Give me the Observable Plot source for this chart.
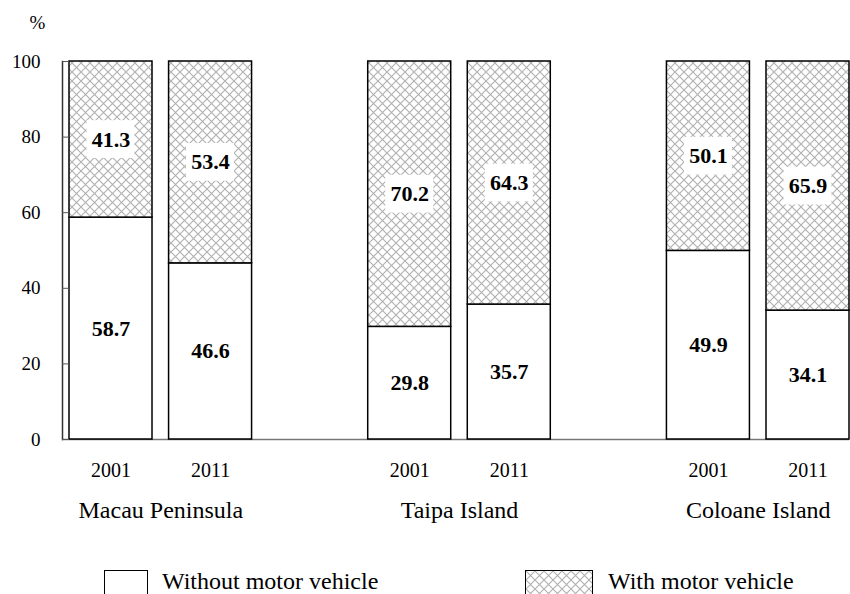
<!DOCTYPE html>
<html>
<head>
<meta charset="utf-8">
<script src="https://cdn.jsdelivr.net/npm/d3@7"></script>
<script src="https://cdn.jsdelivr.net/npm/@observablehq/plot@0.6"></script>
<style>
  html, body { margin: 0; padding: 0; background: #fff; overflow: hidden; }
  #wrap { position: relative; width: 850px; height: 594px; font-family: "Liberation Serif", "Times New Roman", serif; }
  #legend { position: absolute; left: 0; top: 570px; width: 850px; height: 30px; font-size: 24px; color: #000; }
  .sw { position: absolute; top: 0; height: 26px; box-sizing: border-box; border: 1.5px solid #000; background: #fff; }
  .lab { position: absolute; top: 0; line-height: 22px; white-space: nowrap; }
</style>
</head>
<body>
<div id="wrap">
  <div id="chart"></div>
  <div id="legend">
    <div class="sw" style="left:104px;width:44px;"></div>
    <div class="lab" style="left:162px;">Without motor vehicle</div>
    <svg class="sw" style="left:525px;width:68px;padding:0;" width="68" height="26"><rect x="0" y="0" width="68" height="26" fill="url(#hatch)"/></svg>
    <div class="lab" style="left:608px;">With motor vehicle</div>
  </div>
</div>
<script>
const regions = ["Macau Peninsula", "Taipa Island", "Coloane Island"];
const years = ["2001", "2011"];
// per region, per year (2001, 2011)
const withoutVehicle = [58.7, 46.6, 29.8, 35.7, 49.9, 34.1];
const withVehicle = [41.3, 53.4, 70.2, 64.3, 50.1, 65.9];
const yTicks = [0, 20, 40, 60, 80, 100];

// band slots: two bars per region, an empty slot between regions
const slots = [];
regions.forEach((r, i) => {
  years.forEach(y => slots.push(r + "|" + y));
  if (i < regions.length - 1) slots.push("gap" + i);
});
const barSlots = slots.filter(s => s.includes("|"));

const rows = [];
regions.forEach((r, i) => years.forEach((y, j) => {
  const k = i * years.length + j;
  rows.push({slot: r + "|" + y, type: "without", value: withoutVehicle[k], base: 0});
}));
regions.forEach((r, i) => years.forEach((y, j) => {
  const k = i * years.length + j;
  rows.push({slot: r + "|" + y, type: "with", value: withVehicle[k], base: withoutVehicle[k]});
}));
const withRows = rows.filter(d => d.type === "with");

const chart = Plot.plot({
  width: 850,
  height: 560,
  marginLeft: 62,
  marginRight: 1,
  marginTop: 61,
  marginBottom: 121,
  style: {fontFamily: "Liberation Serif, Times New Roman, serif", fontSize: "19px", color: "#000", background: "#fff", overflow: "visible"},
  x: {domain: slots, paddingInner: 0.1664, paddingOuter: 0, insetLeft: 7, round: false},
  y: {domain: [0, 100]},
  color: {type: "identity"},
  marks: [
    Plot.ruleY([0], {stroke: "#777", strokeWidth: 1.5}),
    Plot.barY(rows, Plot.stackY({
      x: "slot", y: "value", z: "type", order: null,
      fill: d => d.type === "with" ? "url(#hatch)" : "#ffffff",
      stroke: "#000", strokeWidth: 1.5
    })),
    Plot.barY(withRows, {
      x: "slot",
      y1: d => d.base + d.value / 2 - 5,
      y2: d => d.base + d.value / 2 + 5,
      fill: "#ffffff", insetLeft: 17.5, insetRight: 17.5
    }),
    Plot.text(rows, Plot.stackY({
      x: "slot", y: "value", z: "type", order: null,
      text: d => d.value.toFixed(1),
      fontWeight: "bold", fontSize: 22, fill: "#000"
    })),
    Plot.frame({anchor: "left", stroke: "#333", strokeWidth: 1.5}),
    Plot.axisY(yTicks, {tickSize: 0, tickPadding: 22, fontSize: 19, label: null}),
    Plot.axisY(yTicks, {tickSize: 7, dx: 7, tickFormat: () => "", stroke: "#555", label: null}),
    Plot.axisX(barSlots, {tickSize: 0, tickPadding: 23, fontSize: 20, tickFormat: s => s.split("|")[1], label: null}),
    Plot.text(regions, {x: r => r + "|" + years[0], frameAnchor: "bottom", dx: 49.8, dy: 61, lineAnchor: "top", fontSize: 24, fill: "#000"}),
    Plot.text(["%"], {frameAnchor: "top-left", textAnchor: "middle", lineAnchor: "middle", dx: -25, dy: -39, fontSize: 19, fill: "#000"})
  ]
});

function addPattern(svg) {
  const ns = "http://www.w3.org/2000/svg";
  const defs = document.createElementNS(ns, "defs");
  const pat = document.createElementNS(ns, "pattern");
  pat.setAttribute("id", "hatch");
  pat.setAttribute("patternUnits", "userSpaceOnUse");
  pat.setAttribute("width", "9");
  pat.setAttribute("height", "9");
  const bg = document.createElementNS(ns, "rect");
  bg.setAttribute("width", "9"); bg.setAttribute("height", "9"); bg.setAttribute("fill", "#fff");
  const p = document.createElementNS(ns, "path");
  p.setAttribute("d", "M-1,-1L10,10M10,-1L-1,10");
  p.setAttribute("stroke", "#b0b0b0");
  p.setAttribute("stroke-width", "1.1");
  pat.appendChild(bg); pat.appendChild(p);
  defs.appendChild(pat);
  svg.insertBefore(defs, svg.firstChild);
}
addPattern(chart);
addPattern(document.querySelector("#legend svg"));
document.getElementById("chart").appendChild(chart);
</script>
</body>
</html>
